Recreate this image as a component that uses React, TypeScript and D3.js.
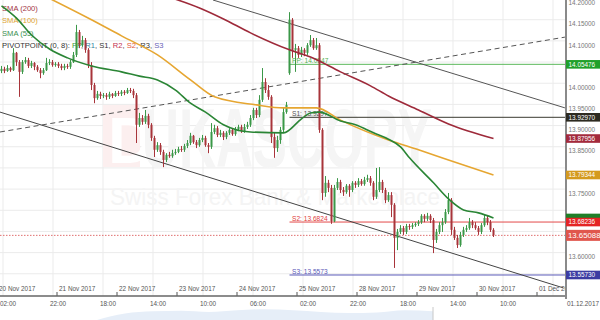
import React from 'react';
import * as d3 from 'd3';

// ---------- data ----------
const firstOpen = 14.039;
const closes = [
  14.044, 14.039, 14.046, 14.041, 14.082, 14.060, 14.037, 14.060, 14.065, 14.051,
  14.058, 14.049, 14.041, 14.034, 14.041, 14.058, 14.060, 14.053, 14.056, 14.051,
  14.046, 14.051, 14.049, 14.060, 14.077, 14.131, 14.100, 14.112, 14.089, 14.053,
  14.006, 13.975, 13.985, 13.980, 13.982, 13.978, 13.985, 13.980, 13.987, 13.985,
  13.990, 13.987, 13.994, 13.992, 13.982, 13.912, 13.928, 13.919, 13.933, 13.912,
  13.881, 13.853, 13.864, 13.848, 13.829, 13.841, 13.838, 13.845, 13.848, 13.855,
  13.853, 13.862, 13.869, 13.886, 13.871, 13.864, 13.876, 13.881, 13.864, 13.860,
  13.895, 13.904, 13.888, 13.893, 13.883, 13.893, 13.900, 13.890, 13.902, 13.907,
  13.897, 13.907, 13.912, 13.928, 13.947, 13.935, 13.971, 14.013, 13.994, 13.978,
  13.883, 13.857, 13.876, 13.900, 13.942, 13.959, 14.160, 14.089, 14.093, 14.077,
  14.089, 14.082, 14.100, 14.112, 14.093, 14.100, 13.900, 13.751, 13.775, 13.763,
  13.684, 13.763, 13.777, 13.758, 13.753, 13.768, 13.758, 13.775, 13.770, 13.779,
  13.772, 13.782, 13.786, 13.775, 13.742, 13.758, 13.777, 13.758, 13.734, 13.746,
  13.723, 13.645, 13.659, 13.668, 13.659, 13.673, 13.671, 13.675, 13.678, 13.682,
  13.697, 13.690, 13.697, 13.687, 13.640, 13.659, 13.675, 13.682, 13.706, 13.734,
  13.664, 13.645, 13.628, 13.652, 13.664, 13.668, 13.682, 13.675, 13.668, 13.659,
  13.675, 13.692, 13.682, 13.664, 13.651,
];
const highs = [
  14.051, 14.049, 14.053, 14.049, 14.093, 14.084, 14.065, 14.065, 14.072, 14.070,
  14.063, 14.060, 14.053, 14.046, 14.046, 14.070, 14.067, 14.065, 14.060, 14.060,
  14.056, 14.056, 14.056, 14.065, 14.084, 14.148, 14.136, 14.122, 14.117, 14.093,
  14.060, 14.011, 13.992, 13.990, 13.987, 13.987, 13.990, 13.987, 13.992, 13.992,
  13.994, 13.994, 13.999, 13.999, 13.997, 13.987, 13.940, 13.935, 13.947, 13.938,
  13.916, 13.886, 13.871, 13.869, 13.853, 13.845, 13.848, 13.853, 13.855, 13.860,
  13.862, 13.867, 13.876, 13.893, 13.888, 13.876, 13.881, 13.888, 13.886, 13.869,
  13.916, 13.912, 13.909, 13.900, 13.897, 13.897, 13.904, 13.904, 13.907, 13.912,
  13.912, 13.914, 13.919, 13.935, 13.952, 13.952, 13.982, 14.046, 14.022, 14.006,
  13.982, 13.893, 13.886, 13.907, 13.952, 13.966, 14.178, 14.164, 14.103, 14.098,
  14.096, 14.093, 14.105, 14.124, 14.117, 14.117, 14.105, 13.904, 13.791, 13.782,
  13.770, 13.770, 13.786, 13.782, 13.765, 13.772, 13.772, 13.779, 13.779, 13.786,
  13.784, 13.789, 13.794, 13.791, 13.779, 13.810, 13.812, 13.782, 13.763, 13.753,
  13.753, 13.727, 13.666, 13.675, 13.673, 13.678, 13.678, 13.680, 13.682, 13.687,
  13.701, 13.701, 13.704, 13.701, 13.692, 13.666, 13.682, 13.692, 13.713, 13.751,
  13.739, 13.671, 13.652, 13.659, 13.671, 13.675, 13.692, 13.687, 13.682, 13.673,
  13.680, 13.699, 13.697, 13.687, 13.668,
];
const lows = [
  14.034, 14.034, 14.037, 14.037, 14.039, 14.051, 13.978, 14.032, 14.056, 14.046,
  14.046, 14.041, 14.037, 14.022, 14.030, 14.039, 14.053, 14.049, 14.049, 14.046,
  14.041, 14.041, 14.044, 14.044, 14.058, 14.072, 14.093, 14.096, 14.082, 14.046,
  13.994, 13.963, 13.971, 13.973, 13.975, 13.971, 13.973, 13.975, 13.978, 13.980,
  13.980, 13.982, 13.985, 13.987, 13.975, 13.869, 13.907, 13.912, 13.914, 13.904,
  13.874, 13.836, 13.848, 13.841, 13.812, 13.824, 13.834, 13.834, 13.841, 13.845,
  13.848, 13.848, 13.857, 13.864, 13.867, 13.857, 13.860, 13.871, 13.860, 13.845,
  13.855, 13.890, 13.883, 13.883, 13.876, 13.878, 13.888, 13.886, 13.886, 13.897,
  13.893, 13.893, 13.902, 13.907, 13.923, 13.928, 13.930, 13.966, 13.987, 13.971,
  13.869, 13.834, 13.848, 13.867, 13.895, 13.938, 14.030, 14.070, 14.037, 14.070,
  14.072, 14.074, 14.077, 14.096, 14.089, 14.089, 13.893, 13.734, 13.742, 13.753,
  13.678, 13.682, 13.758, 13.751, 13.744, 13.749, 13.742, 13.753, 13.763, 13.765,
  13.768, 13.768, 13.777, 13.768, 13.734, 13.737, 13.753, 13.751, 13.727, 13.730,
  13.694, 13.574, 13.616, 13.654, 13.652, 13.654, 13.664, 13.666, 13.671, 13.673,
  13.678, 13.682, 13.685, 13.680, 13.609, 13.633, 13.654, 13.659, 13.678, 13.701,
  13.652, 13.640, 13.621, 13.624, 13.647, 13.659, 13.664, 13.668, 13.664, 13.652,
  13.654, 13.671, 13.675, 13.659, 13.647,
];
// weekend gap: candle index -> opening price
const gapOpens: [number, number][] = [[96, 14.034]];

// moving averages: [candle index, value]
const sma200: [number, number][] = [
  [57, 14.211], [66, 14.188], [74, 14.162], [83, 14.129], [96, 14.089], [103, 14.072],
  [113, 14.037], [123, 14.004], [129, 13.980], [139, 13.947], [149, 13.914], [164, 13.87956],
];
const sma100: [number, number][] = [
  [15, 14.214], [30, 14.160], [40, 14.122], [52, 14.077], [63, 14.018], [71, 13.978],
  [85, 13.959], [94, 13.952], [105, 13.952], [113, 13.923], [129, 13.876], [139, 13.853],
  [149, 13.829], [164, 13.79344],
];
const sma55: [number, number][] = [
  [0, 14.193], [5, 14.164], [10, 14.124], [16, 14.091], [22, 14.070], [30, 14.051],
  [40, 14.037], [46, 14.027], [52, 14.018], [58, 13.994], [63, 13.963], [68, 13.942],
  [74, 13.912], [83, 13.895], [94, 13.893], [100, 13.926], [103, 13.940], [106, 13.942],
  [113, 13.921], [118, 13.912], [124, 13.893], [129, 13.878], [133, 13.860], [136, 13.834],
  [144, 13.775], [149, 13.737], [154, 13.711], [159, 13.704], [164, 13.692],
];

// pivot levels (start at the weekly session start)
const pivotNames = ['PP', 'S1', 'S2', 'S3'];
const pivotValues = [14.05476, 13.9297, 13.68236, 13.5573];
const pivotLabels = ['PP: 14.0547', 'S1: 13.9297', 'S2: 13.6824', 'S3: 13.5573'];
const pivotStart = 96;
const lastPrice = 13.65088;

// trend lines: [index, value] endpoints
const trendUpperChannel: [number, number][] = [[70.5, 14.2067], [187.8, 13.952]];
const trendLowerChannel: [number, number][] = [[-0.5, 13.942], [187.2, 13.527]];
const trendDashed: [number, number][] = [[-0.5, 13.895], [187.8, 14.119]];

// axes
const priceTicks = [14.2, 14.15, 14.1, 14.05, 14.0, 13.95, 13.9, 13.85, 13.8, 13.75, 13.7, 13.65, 13.6, 13.55];
const dateTickIdx = [-1.5, 18.5, 38.5, 58.5, 78.5, 98.5, 118.5, 138.5, 158.5, 178.5];
const dateLabels = ['20 Nov 2017', '21 Nov 2017', '22 Nov 2017', '23 Nov 2017', '24 Nov 2017', '25 Nov 2017', '28 Nov 2017', '29 Nov 2017', '30 Nov 2017', '01 Dec 2017'];
const timeTickIdx = [0.5, 17.17, 33.83, 50.5, 67.17, 83.83, 100.5, 117.17, 133.83, 150.5, 167.17, 183.83];
const timeLabels = ['02:00', '22:00', '18:00', '14:00', '10:00', '06:00', '02:00', '22:00', '18:00', '14:00', '10:00', ''];
const navigatorEndLabel = '01.12.2017';
const navigatorValues = [0, 6, 8, 8.5, 7.5, 9, 10, 9, 7.5, 6.5, 7, 9, 8];

// ---------- component ----------
const FONT = "'Liberation Sans', Arial, sans-serif";
const PLOT_R = 566;
const PLOT_B = 296;

export default function App() {
  const x = d3.scaleLinear().domain([0, 164]).range([1.5, 493.5]);
  const y = d3.scaleLinear().domain([13.5077, 14.2067]).range([PLOT_B, 0]);

  const candles = closes.map((c, i) => {
    const gap = gapOpens.find((g) => g[0] === i);
    const o = gap ? gap[1] : i === 0 ? firstOpen : closes[i - 1];
    return { i, o, c, h: Math.max(highs[i], o, c), l: Math.min(lows[i], o, c) };
  });

  const smaLine = d3
    .line<[number, number]>()
    .x((d) => x(d[0]))
    .y((d) => y(d[1]))
    .curve(d3.curveMonotoneX);
  const straight = d3
    .line<[number, number]>()
    .x((d) => x(d[0]))
    .y((d) => y(d[1]));

  const navX = d3.scaleLinear().domain([0, navigatorValues.length - 1]).range([97, 433]);
  const navY = d3.scaleLinear().domain([0, 12]).range([320, 307]);
  const navArea = d3
    .area<number>()
    .x((_, i) => navX(i))
    .y0(320)
    .y1((d) => navY(d))
    .curve(d3.curveMonotoneX);

  const up = '#3b9848';
  const down = '#a8343a';

  const pivotLine = ['#5cb85c', '#3a3a30', '#e34a4a', '#5a5ab8'];
  const pivotText = ['#52b052', '#555', '#e03a3a', '#5a5ab8'];

  const boxes = [
    { v: pivotValues[0], fill: '#20a02a' },
    { v: pivotValues[1], fill: '#2d2a20' },
    { v: sma200[sma200.length - 1][1], fill: '#a32a3c' },
    { v: sma100[sma100.length - 1][1], fill: '#d49a1e' },
    { v: sma55[sma55.length - 1][1], fill: '#1f7f28' },
    { v: pivotValues[2], fill: '#e42424' },
    { v: pivotValues[3], fill: '#3c3ca2' },
  ];
  const boxVals = boxes.map((b) => b.v).concat([lastPrice]);
  const visibleTicks = priceTicks.filter(
    (t) => !boxVals.some((v) => Math.abs(y(v) - y(t)) < 4.5)
  );

  return (
    <svg
      width={600}
      height={320}
      style={{ position: 'absolute', left: 0, top: 0, background: '#fff', fontFamily: FONT }}
    >
      <defs>
        <clipPath id="plot">
          <rect x={0} y={0} width={PLOT_R} height={PLOT_B} />
        </clipPath>
      </defs>
      <rect x={0} y={0} width={600} height={320} fill="#fff" />

      {/* grid */}
      <g stroke="#ebebeb" strokeWidth={1}>
        {priceTicks.map((t) => (
          <line key={'h' + t} x1={0} x2={PLOT_R} y1={y(t) - 4.3} y2={y(t) - 4.3} />
        ))}
        {timeTickIdx.map((t) => (
          <line key={'v' + t} x1={x(t)} x2={x(t)} y1={0} y2={PLOT_B} />
        ))}
      </g>

      {/* watermark */}
      <g>
        <rect x={103} y={105} width={37} height={62} fill="#fcefef" />
        <text x={108} y={163} fontSize={64} fontWeight="bold" fill="#fff">D</text>
        <text
          x={142}
          y={167}
          fontSize={84}
          fontWeight="bold"
          fill="#f5f5f5"
          textLength={290}
          lengthAdjust="spacingAndGlyphs"
        >
          UKASCOPY
        </text>
        <text
          x={110}
          y={205}
          fontSize={24}
          fill="#f4f4f4"
          textLength={330}
          lengthAdjust="spacingAndGlyphs"
        >
          Swiss Forex Bank &amp; Marketplace
        </text>
      </g>

      {/* legend */}
      <g fontSize={7.6}>
        <text x={2} y={10.5} fill="#a23545">SMA (200)</text>
        <text x={2} y={23} fill="#e0a432">SMA (100)</text>
        <text x={2} y={35.5} fill="#3a9050">SMA (55)</text>
        <text x={2} y={48} fill="#333">
          PIVOTPOINT (0, 8):{' '}
          <tspan fill="#3a9a3a">PP</tspan>, <tspan fill="#2f7fa0">R1</tspan>,{' '}
          <tspan fill="#333">S1</tspan>, <tspan fill="#c2304f">R2</tspan>,{' '}
          <tspan fill="#e2583a">S2</tspan>, <tspan fill="#333">R3</tspan>,{' '}
          <tspan fill="#6a62b8">S3</tspan>
        </text>
      </g>

      <g clipPath="url(#plot)">
        {/* current price dotted line */}
        <line
          x1={0}
          x2={PLOT_R}
          y1={y(lastPrice)}
          y2={y(lastPrice)}
          stroke="#e07070"
          strokeWidth={1}
          strokeDasharray="1.5,1.5"
        />

        {/* pivots */}
        {pivotValues.map((v, k) => (
          <g key={pivotNames[k]}>
            <line
              x1={x(pivotStart)}
              x2={PLOT_R}
              y1={y(v)}
              y2={y(v)}
              stroke={pivotLine[k]}
              strokeWidth={1}
            />
            <text x={x(pivotStart) + 2.5} y={y(v) - 1.3} fontSize={6.6} fill={pivotText[k]}>
              {pivotLabels[k]}
            </text>
          </g>
        ))}

        {/* trend lines */}
        <path d={straight(trendUpperChannel) || ''} stroke="#555" strokeWidth={1} fill="none" />
        <path d={straight(trendLowerChannel) || ''} stroke="#444" strokeWidth={1} fill="none" />
        <path
          d={straight(trendDashed) || ''}
          stroke="#555"
          strokeWidth={1}
          strokeDasharray="5,3.5"
          fill="none"
        />

        {/* candles */}
        {candles.map((d) => {
          const col = d.c >= d.o ? up : down;
          const cx = x(d.i);
          const top = y(Math.max(d.o, d.c));
          const bot = y(Math.min(d.o, d.c));
          return (
            <g key={d.i}>
              <line x1={cx} x2={cx} y1={y(d.h)} y2={y(d.l)} stroke={col} strokeWidth={1} />
              <rect x={cx - 1} y={top} width={2} height={Math.max(1, bot - top)} fill={col} />
            </g>
          );
        })}

        {/* moving averages */}
        <path d={smaLine(sma200) || ''} stroke="#9e2a3a" strokeWidth={1.6} fill="none" />
        <path d={smaLine(sma100) || ''} stroke="#e6a631" strokeWidth={1.6} fill="none" />
        <path d={smaLine(sma55) || ''} stroke="#2a8535" strokeWidth={1.6} fill="none" />

        {/* date labels */}
        {dateTickIdx.map((t, k) => (
          <g key={'d' + k}>
            <line x1={x(t)} x2={x(t)} y1={292} y2={PLOT_B} stroke="#555" strokeWidth={1} />
            <text x={x(t) + 2} y={290.5} fontSize={6.4} fill="#555">
              {dateLabels[k]}
            </text>
          </g>
        ))}
      </g>

      {/* axes */}
      <line x1={0} x2={PLOT_R} y1={PLOT_B} y2={PLOT_B} stroke="#666" strokeWidth={1.3} />
      <line x1={PLOT_R} x2={PLOT_R} y1={0} y2={PLOT_B + 3} stroke="#8a8a8a" strokeWidth={2} />

      {/* right axis tick labels */}
      {visibleTicks.map((t) => (
        <text key={'pt' + t} x={568.5} y={y(t) + 2.4} fontSize={6.4} fill="#777">
          {t.toFixed(5)}
        </text>
      ))}

      {/* right axis value boxes */}
      {boxes.map((b, k) => (
        <g key={'b' + k}>
          <rect x={PLOT_R} y={y(b.v) - 4.3} width={600 - PLOT_R} height={8.6} fill={b.fill} />
          {k === 4 ? null : (
            <text x={568.5} y={y(b.v) + 2.4} fontSize={6.4} fill="#fff">
              {b.v.toFixed(5)}
            </text>
          )}
        </g>
      ))}
      <rect x={PLOT_R} y={y(lastPrice) - 5.5} width={600 - PLOT_R} height={11} fill="#e0564c" />
      <text x={568} y={y(lastPrice) + 2.8} fontSize={7.8} fill="#fff">
        {lastPrice.toFixed(5)}
      </text>

      {/* bottom time labels / navigator */}
      <path d={navArea(navigatorValues) || ''} fill="#e6eef8" />
      <line x1={433} x2={433} y1={307} y2={320} stroke="#c8c8c8" strokeWidth={1} />
      {timeTickIdx.map((t, k) =>
        timeLabels[k] ? (
          <text key={'t' + k} x={x(t) + 5} y={305.5} fontSize={6.4} fill="#555" textAnchor="middle">
            {timeLabels[k]}
          </text>
        ) : null
      )}
      <text x={599} y={305.5} fontSize={6.4} fill="#555" textAnchor="end">
        {navigatorEndLabel}
      </text>
    </svg>
  );
}
